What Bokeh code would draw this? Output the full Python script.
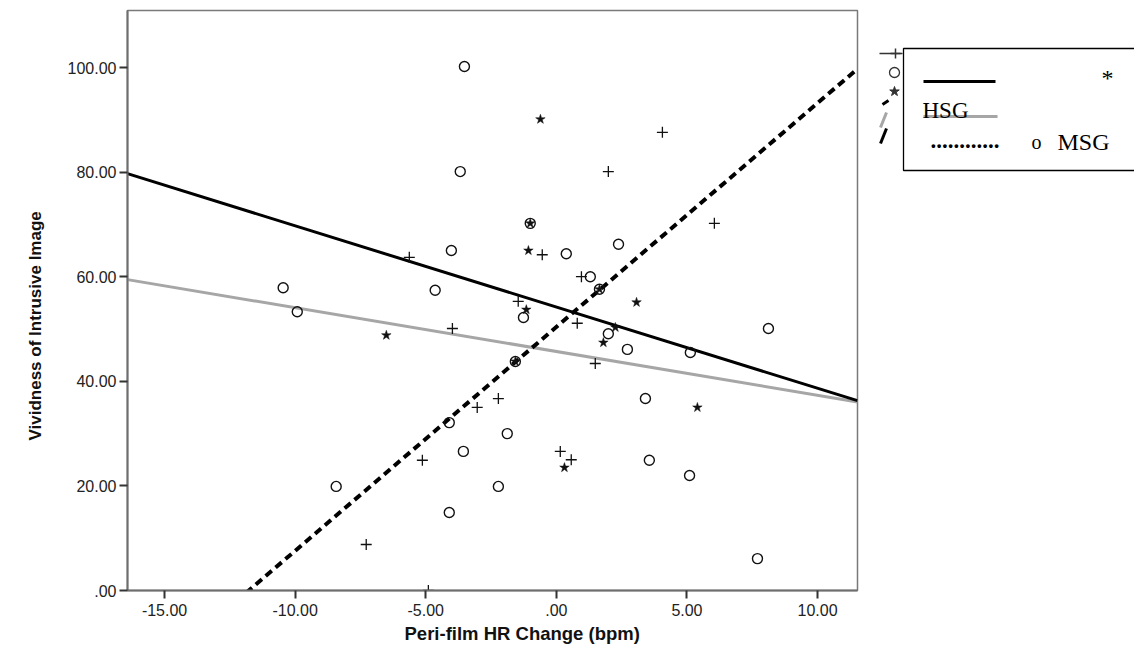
import numpy as np
from bokeh.plotting import figure
from bokeh.layouts import row
from bokeh.models import Range1d, CustomJSTickFormatter, FixedTicker, Title
from bokeh.core.properties import value
from bokeh.embed import file_html
from bokeh.resources import INLINE

# ---------------- data ----------------
circle_x = [-3.52, -3.68, -4.02, -4.64, -10.46, -9.92, -1.00, 0.38, 2.38, 1.30,
            1.65, -1.26, 1.99, 2.72, 5.13, 8.12, 3.41, -1.88, 3.56, 5.10,
            -2.22, 7.70, -1.57, -4.10, -3.56, -8.43, -4.10]
circle_y = [100.2, 80.1, 65.0, 57.4, 57.9, 53.3, 70.2, 64.4, 66.2, 60.0,
            57.6, 52.2, 49.1, 46.1, 45.5, 50.1, 36.7, 30.0, 24.9, 22.0,
            19.9, 6.1, 43.8, 32.1, 26.6, 19.9, 14.9]

plus_x = [-1.46, -5.63, -3.98, 1.99, 4.06, 6.05, -0.54, 0.96, 0.80, 1.49,
          -2.22, 0.15, 0.57, -3.03, -5.13, -7.28, -4.90]
plus_y = [55.3, 63.7, 50.1, 80.1, 87.6, 70.2, 64.2, 60.0, 51.1, 43.4,
          36.7, 26.6, 25.0, 35.0, 24.9, 8.8, 0.0]

star_x = [-0.61, -1.00, -1.07, 3.07, -1.15, 1.65, -6.51, 2.26, 1.80, 5.40,
          0.31, -1.57]
star_y = [90.1, 70.2, 65.0, 55.1, 53.7, 57.6, 48.8, 50.3, 47.4, 35.0,
          23.5, 43.8]

# fit lines: intercept and slope
fit_names = ["solid", "gray", "dashed"]
fit_intercepts = [54.2, 45.7, 50.4]
fit_slopes = [-1.553, -0.837, 4.28]

x_ticks = [-15, -10, -5, 0, 5, 10]
y_ticks = [0, 20, 40, 60, 80, 100]
x_min, x_max = -16.42, 11.53
y_min, y_max = 0.0, 110.9

x_title = "Peri-film HR Change (bpm)"
y_title = "Vividness of Intrusive Image"
legend_texts = ["*", "HSG", "............", "o", "MSG"]

# ---------------- main plot ----------------
p = figure(width=870, height=659,
           x_range=Range1d(x_min, x_max), y_range=Range1d(y_min, y_max),
           output_backend="svg", toolbar_location=None,
           min_border_left=127, min_border_right=13,
           min_border_top=10, min_border_bottom=69)
p.grid.visible = False
p.outline_line_color = "#7a7a7a"
p.outline_line_width = 1.5
p.background_fill_color = "white"
p.border_fill_color = "white"

fmt = CustomJSTickFormatter(code="""
let s = tick.toFixed(2);
if (s.startsWith('0.')) s = s.slice(1);
else if (s.startsWith('-0.')) s = '-' + s.slice(2);
return s;
""")

for ax, ticks in ((p.xaxis[0], x_ticks), (p.yaxis[0], y_ticks)):
    ax.ticker = FixedTicker(ticks=ticks)
    ax.formatter = fmt
    ax.minor_tick_line_color = None
    ax.major_tick_in = 0
    ax.major_tick_out = 8
    ax.major_tick_line_color = "#333333"
    ax.major_tick_line_width = 2
    ax.axis_line_color = "#6e6e6e"
    ax.axis_line_width = 2
    ax.major_label_text_font = "Liberation Sans"
    ax.major_label_text_font_size = "16px"
    ax.major_label_text_color = "#222222"

p.xaxis.major_label_standoff = 5
p.yaxis.major_label_standoff = 3

# axis titles (placed off-centre as in the reference)
p.add_layout(Title(text=x_title, align="left", offset=277, standoff=4,
                   text_font="Liberation Sans", text_font_style="bold",
                   text_font_size="18.5px", text_color="#111111"), "below")
p.add_layout(Title(text=y_title, align="left", offset=150, standoff=40,
                   text_font="Liberation Sans", text_font_style="bold",
                   text_font_size="17px", text_color="#111111"), "left")

# fit lines
xs = np.array([x_min, x_max])
styles = {
    "gray": dict(line_color="#a6a6a6", line_width=3),
    "solid": dict(line_color="#000000", line_width=3),
    "dashed": dict(line_color="#000000", line_width=4, line_dash="8 5"),
}
for name in ["gray", "solid", "dashed"]:
    i = fit_names.index(name)
    p.line(xs, fit_intercepts[i] + fit_slopes[i] * xs, **styles[name])

# markers
p.scatter(circle_x, circle_y, marker="circle", size=10, fill_color=None,
          line_color="#111111", line_width=1.4)
p.scatter(plus_x, plus_y, marker="cross", size=11, line_color="#111111",
          line_width=1.3)
p.scatter(star_x, star_y, marker="star", size=10, fill_color="#111111",
          line_color="#111111", line_width=0.5)

# ---------------- legend panel (screen-pixel coordinates) ----------------
# the row aligns this panel's frame with the main frame (screen y 10..590)
q = figure(width=264, height=659, x_range=Range1d(870, 1134),
           y_range=Range1d(590, 10), output_backend="svg",
           toolbar_location=None, min_border=0)
q.axis.visible = False
q.grid.visible = False
q.outline_line_color = None
q.border_fill_color = "white"

# remnants of an underlying legend, left of the box
q.segment(x0=[879], y0=[53], x1=[902], y1=[53], line_color="#333333", line_width=1.5)
q.scatter([895], [53], marker="cross", size=10, line_color="#333333", line_width=1.5)
q.scatter([894], [72], marker="circle", size=10, fill_color=None,
          line_color="#333333", line_width=1.3)
q.scatter([894], [91], marker="star", size=10, fill_color="#333333", line_color="#333333")
q.segment(x0=[882, 880, 880], y0=[104, 127, 143], x1=[888, 886, 886], y1=[100, 112, 128],
          line_color=["#000000", "#a6a6a6", "#000000"], line_width=[3, 3, 3])

# box
q.quad(left=[903], right=[1140], top=[48], bottom=[170], fill_color="white",
       line_color="#000000", line_width=1.3)
# entries
q.segment(x0=[923], y0=[81], x1=[995], y1=[81], line_color="#000000", line_width=3)
q.segment(x0=[923], y0=[116], x1=[997], y1=[116], line_color="#a6a6a6", line_width=3)
q.text(x=[1101], y=[77], text=[legend_texts[0]], text_font=value("Liberation Serif"),
       text_font_size="24px", text_color="#000000", text_baseline="alphabetic")
q.text(x=[922], y=[110], text=[legend_texts[1]], text_font=value("Liberation Serif"),
       text_font_size="23px", text_color="#000000", text_baseline="alphabetic")
q.text(x=[930], y=[140], text=[legend_texts[2]], text_font=value("Liberation Serif"),
       text_font_size="23px", text_color="#000000", text_baseline="alphabetic",
       text_font_style="bold")
q.text(x=[1031], y=[141], text=[legend_texts[3]], text_font=value("Liberation Serif"),
       text_font_size="20px", text_color="#000000", text_baseline="alphabetic")
q.text(x=[1057], y=[141], text=[legend_texts[4]], text_font=value("Liberation Serif"),
       text_font_size="24px", text_color="#000000", text_baseline="alphabetic")

layout = row(p, q, spacing=0)
open("out.html", "w").write(file_html(layout, INLINE))
